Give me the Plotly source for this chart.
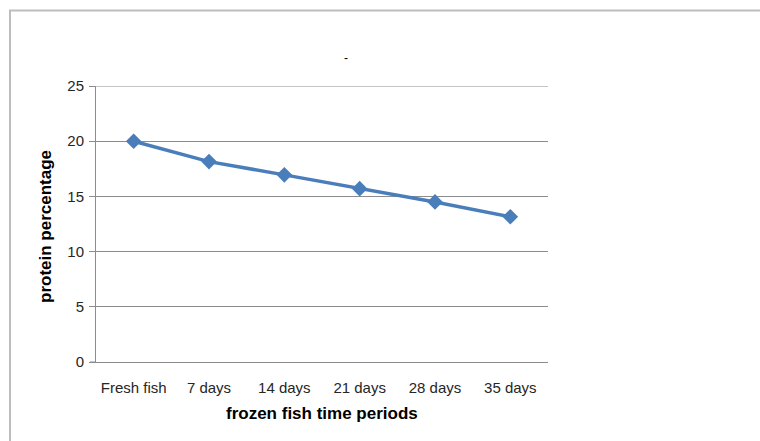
import plotly.graph_objects as go

categories = ["Fresh fish", "7 days", "14 days", "21 days", "28 days", "35 days"]
protein = [20, 18.15, 16.95, 15.7, 14.5, 13.15]
y_ticks = [0, 5, 10, 15, 20, 25]

W, H = 760, 441
L, R, T, B = 96, 548, 85.7, 362.3

def px(x):
    return (x - L) / (R - L)

def py(y):
    return (B - y) / (B - T)

font = "Liberation Sans"

fig = go.Figure()
fig.add_trace(go.Scatter(
    x=categories, y=protein, mode="lines+markers",
    line=dict(color="#4A7EBB", width=3.5),
    marker=dict(symbol="diamond", size=12, color="#4A7EBB"),
    showlegend=False, cliponaxis=False,
))

fig.update_layout(
    width=W, height=H,
    margin=dict(l=L, r=W - R, t=T, b=H - B),
    paper_bgcolor="white", plot_bgcolor="white",
    xaxis=dict(
        type="category", range=[-0.5, 5.5], showgrid=False,
        showline=True, linecolor="#8C8C8C", linewidth=1, zeroline=False,
        ticks="", tickfont=dict(family=font, size=15, color="#262626"),
        ticklabelstandoff=12, fixedrange=True,
    ),
    yaxis=dict(
        range=[0, 25], tickvals=y_ticks, showgrid=True, gridcolor="#8C8C8C",
        gridwidth=1, showline=True, linecolor="#8C8C8C", linewidth=1,
        zeroline=False, ticks="outside", ticklen=6, tickcolor="#8C8C8C",
        tickfont=dict(family=font, size=15, color="#262626"),
        ticklabelstandoff=2, fixedrange=True,
    ),
    annotations=[
        dict(text="<b>protein percentage</b>", textangle=-90, x=px(46), y=py(227),
             xref="paper", yref="paper", xanchor="center", yanchor="middle",
             showarrow=False, font=dict(family=font, size=17, color="black")),
        dict(text="<b>frozen fish time periods</b>", x=px(322), y=py(414),
             xref="paper", yref="paper", xanchor="center", yanchor="middle",
             showarrow=False, font=dict(family=font, size=17, color="black")),
        dict(text="-", x=px(346), y=py(58), xref="paper", yref="paper",
             xanchor="center", yanchor="middle",
             showarrow=False, font=dict(family=font, size=12, color="black")),
    ],
    shapes=[
        dict(type="rect", xref="paper", yref="paper",
             x0=px(10), x1=px(780), y0=py(460), y1=py(10),
             line=dict(color="#BDBDBD", width=2), layer="below"),
        dict(type="line", xref="paper", yref="y",
             x0=0, x1=1, y0=y_ticks[-1], y1=y_ticks[-1],
             line=dict(color="#8C8C8C", width=1), layer="below"),
        dict(type="line", xref="paper", yref="y",
             x0=px(90), x1=px(96), y0=0, y1=0,
             line=dict(color="#8C8C8C", width=1)),
    ],
)

fig.write_html("out.html")
